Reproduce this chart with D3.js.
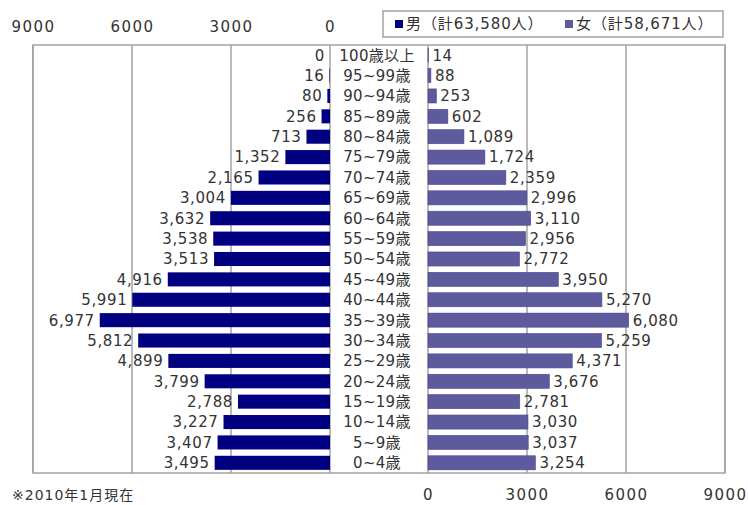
<!DOCTYPE html>
<html>
<head>
<meta charset="utf-8">
<script src="https://cdn.jsdelivr.net/npm/d3@7"></script>
<style>
  html, body { margin: 0; padding: 0; background: #fff; }
  svg { display: block; }
  text { font-family: "DejaVu Sans", "Noto Sans CJK JP", sans-serif; fill: #333; }
</style>
</head>
<body>
<svg id="chart" width="748" height="505"></svg>
<script>
// Age groups, oldest first (top to bottom)
const ageGroups = ["100歳以上","95~99歳","90~94歳","85~89歳","80~84歳","75~79歳","70~74歳",
  "65~69歳","60~64歳","55~59歳","50~54歳","45~49歳","40~44歳","35~39歳","30~34歳",
  "25~29歳","20~24歳","15~19歳","10~14歳","5~9歳","0~4歳"];
const maleValues = [0,16,80,256,713,1352,2165,3004,3632,3538,3513,4916,5991,6977,5812,4899,3799,2788,3227,3407,3495];
const femaleValues = [14,88,253,602,1089,1724,2359,2996,3110,2956,2772,3950,5270,6080,5259,4371,3676,2781,3030,3037,3254];
const axisTicks = [0, 3000, 6000, 9000];
const legendLabels = ["男（計63,580人）", "女（計58,671人）"];
const footnote = "※2010年1月現在";

const maleColor = "#000080";
const femaleColor = "#5d5a9e";
const gridColor = "#a3a3a3";

const svg = d3.select("#chart");
const plotTop = 45, plotBottom = 473;
const leftX0 = 330, leftX1 = 33, rightX0 = 428, rightX1 = 725;

const xL = d3.scaleLinear().domain([0, 9000]).range([leftX0, leftX1]);
const xR = d3.scaleLinear().domain([0, 9000]).range([rightX0, rightX1]);
const y = d3.scaleBand().domain(ageGroups).range([plotTop, plotBottom]).paddingInner(0.31).paddingOuter(0.155);

const fmt = d3.format(",");

// Gridlines
const grid = svg.append("g").attr("stroke", gridColor).attr("stroke-width", 1.5);
axisTicks.forEach(t => {
  grid.append("line").attr("x1", xL(t)).attr("x2", xL(t)).attr("y1", plotTop).attr("y2", plotBottom);
  grid.append("line").attr("x1", xR(t)).attr("x2", xR(t)).attr("y1", plotTop).attr("y2", plotBottom);
});
// Outer frame
svg.append("rect").attr("x", leftX1).attr("y", plotTop).attr("width", rightX1 - leftX1).attr("height", plotBottom - plotTop)
  .attr("fill", "none").attr("stroke", gridColor).attr("stroke-width", 1.5);

// Male bars (leftward)
svg.append("g").selectAll("rect").data(maleValues).join("rect")
  .attr("x", d => xL(d)).attr("y", (d, i) => y(ageGroups[i]))
  .attr("width", d => leftX0 - xL(d)).attr("height", y.bandwidth())
  .attr("fill", maleColor);

// Female bars (rightward)
svg.append("g").selectAll("rect").data(femaleValues).join("rect")
  .attr("x", rightX0).attr("y", (d, i) => y(ageGroups[i]))
  .attr("width", d => xR(d) - rightX0).attr("height", y.bandwidth())
  .attr("fill", femaleColor).attr("stroke", "#4a4790").attr("stroke-width", 0.6);

const mid = i => y(ageGroups[i]) + y.bandwidth() / 2;

// Value labels
svg.append("g").selectAll("text").data(maleValues).join("text")
  .attr("x", d => xL(d) - 5).attr("y", (d, i) => mid(i)).attr("dy", "0.36em")
  .attr("text-anchor", "end").style("font-size", "15px").style("letter-spacing", "0.6px")
  .text(d => fmt(d));
svg.append("g").selectAll("text").data(femaleValues).join("text")
  .attr("x", d => xR(d) + 4).attr("y", (d, i) => mid(i)).attr("dy", "0.36em")
  .attr("text-anchor", "start").style("font-size", "15px").style("letter-spacing", "0.6px")
  .text(d => fmt(d));

// Age group labels in the centre column
svg.append("g").selectAll("text").data(ageGroups).join("text")
  .attr("x", 377).attr("y", (d, i) => mid(i)).attr("dy", "0.36em")
  .attr("text-anchor", "middle").style("font-size", "15px").style("letter-spacing", "0.3px")
  .text(d => d);

// Axes: left scale on top, right scale at the bottom
const axTop = svg.append("g").attr("transform", "translate(0,32)")
  .call(d3.axisTop(xL).tickValues(axisTicks).tickSize(0).tickPadding(0).tickFormat(d3.format("d")));
const axBot = svg.append("g").attr("transform", "translate(0,489)")
  .call(d3.axisBottom(xR).tickValues(axisTicks).tickSize(0).tickPadding(0).tickFormat(d3.format("d")));
[axTop, axBot].forEach(a => {
  a.select(".domain").remove();
  a.selectAll("text").style("font-size", "15px").style("letter-spacing", "1.5px")
    .attr("fill", "#333").attr("font-family", null);
});

// Legend
const lg = svg.append("g");
lg.append("rect").attr("x", 383).attr("y", 11).attr("width", 340).attr("height", 26)
  .attr("fill", "#fff").attr("stroke", gridColor).attr("stroke-width", 1.5);
const legendItems = [
  { x: 395, color: maleColor, label: legendLabels[0] },
  { x: 565, color: femaleColor, label: legendLabels[1] }
];
legendItems.forEach(it => {
  lg.append("rect").attr("x", it.x).attr("y", 20).attr("width", 8).attr("height", 8).attr("fill", it.color);
  lg.append("text").attr("x", it.x + 11).attr("y", 24).attr("dy", "0.36em")
    .style("font-size", "15px").style("letter-spacing", "0.9px").text(it.label);
});

// Footnote
svg.append("text").attr("x", 12).attr("y", 495).attr("dy", "0.36em")
  .style("font-size", "14px").style("letter-spacing", "1px").text(footnote);
</script>
</body>
</html>
